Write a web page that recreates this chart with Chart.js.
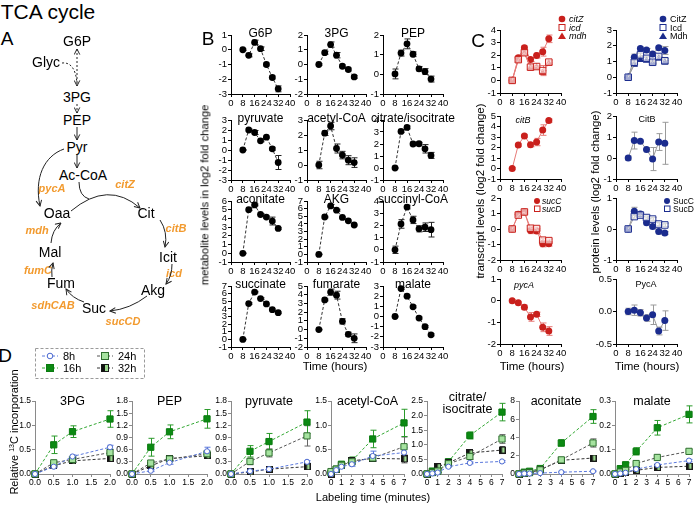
<!DOCTYPE html>
<html>
<head>
<meta charset="utf-8">
<script src="https://cdn.jsdelivr.net/npm/chart.js@4.4.1/dist/chart.umd.min.js"></script>
<style>
body { margin: 0; background: #fff; }
#fig { position: relative; width: 696px; height: 505px; overflow: hidden; font-family: "Liberation Sans", Arial, Helvetica, sans-serif; }
#fig canvas { position: absolute; z-index: 1; }
.t { position: absolute; white-space: nowrap; line-height: 1; transform: translate(-50%, -50%); z-index: 2; color: #000; }
</style>
</head>
<body>
<div id="fig"></div>
<script>
const FONT = '"Liberation Sans", Arial, Helvetica, sans-serif';
Chart.defaults.font.family = FONT;

// ---------- data ----------
const hours = [8, 12, 16, 20, 24, 28, 32];
const hourTicks = [0, 8, 16, 24, 32, 40];

// B: metabolite levels (log2 fold change)
const g6p = [0, -0.38, 0.5, 0.07, -1.0, -1.88, -2.65];
const g6pErr = [0.05, 0.1, 0.15, 0.12, 0.1, 0.1, 0.2];
const pg3 = [0, 0.8, 1.35, 0.63, -0.12, -0.34, -0.84];
const pg3Err = [0.05, 0.1, 0.18, 0.18, 0.1, 0.1, 0.1];
const pep = [0.02, 1.08, 1.55, 1.02, 0.28, 0.14, -0.24];
const pepErr = [0.25, 0.15, 0.25, 0.12, 0.12, 0.15, 0.15];
const pyr = [0, 2.0, 1.75, 0.92, 1.28, 0.12, -1.25];
const pyrErr = [0.05, 0.1, 0.2, 0.1, 0.1, 0.15, 0.7];
const accoa = [0, 2.12, 2.6, 1.1, 0.66, 0.32, 0.16];
const accoaErr = [0.25, 0.15, 0.25, 0.3, 0.25, 0.3, 0.32];
const citIcit = [0, 3.05, 3.38, 2.0, 2.02, 1.6, 1.05];
const citIcitErr = [0.05, 0.1, 0.12, 0.15, 0.12, 0.35, 0.25];
const acn = [0, 5.0, 5.55, 4.45, 4.15, 3.7, 2.85];
const acnErr = [0.05, 0.1, 0.1, 0.1, 0.15, 0.45, 0.1];
const akg = [0, 4.9, 6.35, 5.8, 4.85, 4.4, 3.85];
const akgErr = [0.05, 0.1, 0.2, 0.12, 0.1, 0.1, 0.1];
const succoa = [0, 2.12, 3.5, 2.45, 1.72, 1.85, 1.65];
const succoaErr = [0.3, 0.35, 0.15, 0.3, 0.25, 0.35, 0.6];
const suc = [0, 4.7, 6.2, 5.35, 4.65, 3.9, 3.5];
const sucErr = [0.05, 0.1, 0.1, 0.1, 0.1, 0.1, 0.1];
const fum = [0, 3.4, 4.3, 3.95, 0.95, -0.55, -1.0];
const fumErr = [0.05, 0.1, 0.35, 0.45, 0.3, 0.25, 0.5];
const mal = [0, 2.75, 2.0, 0.95, -0.15, -1.0, -1.8];
const malErr = [0.05, 0.1, 0.1, 0.1, 0.1, 0.1, 0.1];
const bTitles = ['G6P', '3PG', 'PEP', 'pyruvate', 'acetyl-CoA', 'citrate/isocitrate',
                 'aconitate', 'AKG', 'succinyl-CoA', 'succinate', 'fumarate', 'malate'];
const bYTicks = [[-3, 1], [-2, 2], [-1, 2], [-3, 3], [-1, 3], [-1, 4],
                 [-1, 6], [-1, 7], [-1, 4], [-1, 7], [-2, 5], [-3, 3]];

// C: transcripts (red) and proteins (blue)
const citZ = [0, 1.8, 2.6, 1.65, 1.98, 2.28, 3.3];
const citZErr = [0.1, 0.15, 0.15, 0.15, 0.2, 0.35, 0.3];
const icd = [0, 1.65, 2.2, 1.05, 1.1, 0.78, 1.45];
const icdErr = [0.1, 0.2, 0.15, 0.1, 0.1, 0.4, 0.15];
const mdh = [0, 1.6, 2.15, 1.0, 1.05, 0.62, 1.35];
const mdhErr = [0.05, 0.1, 0.1, 0.1, 0.1, 0.15, 0.1];
const citB = [0, 2.25, 3.1, 2.27, 2.52, 3.66, 4.56];
const citBErr = [0.1, 0.15, 0.15, 0.2, 0.35, 0.5, 0.15];
const sucC = [0, 0.95, 1.1, -0.1, -0.13, -0.95, -0.95];
const sucCErr = [0.1, 0.15, 0.15, 0.2, 0.15, 0.2, 0.15];
const sucD = [0, 0.9, 1.1, 0.05, 0.03, -0.72, -0.75];
const sucDErr = [0.1, 0.1, 0.1, 0.1, 0.1, 0.1, 0.1];
const pycA = [0, -0.1, -0.3, -0.75, -0.63, -1.23, -1.4];
const pycAErr = [0.05, 0.05, 0.1, 0.2, 0.1, 0.2, 0.2];

const CitZp = [0, 1.27, 1.82, 1.73, 1.48, 1.88, 1.7];
const CitZpErr = [0.1, 0.2, 0.1, 0.1, 0.1, 0.1, 0.25];
const Icdp = [0, 0.95, 1.42, 1.2, 0.95, 1.32, 1.05];
const IcdpErr = [0.05, 0.1, 0.1, 0.1, 0.1, 0.1, 0.15];
const Mdhp = [0, 0.8, 1.1, 1.05, 0.9, 1.2, 0.95];
const MdhpErr = [0.05, 0.1, 0.1, 0.05, 0.05, 0.1, 0.1];
const CitBp = [0, 0.83, 0.8, 0.4, -0.05, 0.76, 0.7];
const CitBpErr = [0.1, 0.4, 0.05, 0.1, 0.55, 0.4, 1.0];
const SucCp = [0, 0.57, 0.48, 0.2, 0.08, -0.08, -0.13];
const SucCpErr = [0.05, 0.13, 0.05, 0.05, 0.05, 0.08, 0.05];
const SucDp = [0, 0.4, 0.45, 0.37, 0.32, 0.16, 0.13];
const SucDpErr = [0.05, 0.05, 0.05, 0.05, 0.05, 0.05, 0.05];
const PycAp = [0, 0.02, -0.02, -0.1, -0.05, -0.3, -0.14];
const PycApErr = [0.05, 0.08, 0.05, 0.05, 0.15, 0.06, 0.15];

// D: relative 13C incorporation
const minShort = [0, 0.5, 1, 2];
const minLong = [0, 0.5, 1, 2, 4, 7];
const dTitles = ['3PG', 'PEP', 'pyruvate', 'acetyl-CoA', 'citrate/\nisocitrate', 'aconitate', 'malate'];
const dYTicks = [[0, 1.5, 0.5], [0, 1.8, 0.3], [0, 1.8, 0.3], [0, 1.5, 0.5], [0, 2.5, 0.5], [0, 8, 2], [0, 0.3, 0.1]];
// [8h, 16h, 24h, 32h]
const d3pg = [[0, 0.15, 0.36, 0.55], [0, 0.6, 0.87, 1.13], [0, 0.23, 0.3, 0.44], [0, 0.17, 0.27, 0.32]];
const d3pgErr = [[0, 0.02, 0.03, 0.04], [0, 0.18, 0.12, 0.17], [0, 0.03, 0.05, 0.06], [0, 0.02, 0.03, 0.04]];
const dpep = [[0, 0.08, 0.28, 0.56], [0, 0.66, 1.04, 1.36], [0, 0.27, 0.37, 0.5], [0, 0.2, 0.38, 0.45]];
const dpepErr = [[0, 0.02, 0.04, 0.1], [0, 0.22, 0.17, 0.23], [0, 0.04, 0.05, 0.05], [0, 0.03, 0.04, 0.04]];
const dpyr = [[0, 0.07, 0.12, 0.3], [0, 0.56, 0.8, 1.28], [0, 0.31, 0.52, 0.94], [0, 0.05, 0.12, 0.18]];
const dpyrErr = [[0, 0.02, 0.02, 0.03], [0, 0.14, 0.2, 0.28], [0, 0.08, 0.1, 0.25], [0, 0.03, 0.04, 0.05]];
const daccoa = [[0, 0.08, 0.15, 0.2, 0.37, 0.44], [0.02, 0.1, 0.2, 0.27, 0.72, 1.05], [0.05, 0.1, 0.18, 0.25, 0.33, 0.56], [0, 0.1, 0.17, 0.27, 0.32, 0.31]];
const daccoaErr = [[0, 0.02, 0.03, 0.04, 0.1, 0.1], [0.02, 0.03, 0.04, 0.08, 0.18, 0.28], [0.02, 0.02, 0.03, 0.05, 0.06, 0.2], [0, 0.02, 0.03, 0.05, 0.06, 0.08]];
const dcit = [[0, 0.02, 0.05, 0.25, 0.38, 0.43], [0, 0.1, 0.1, 0.42, 1.32, 2.12], [0, 0.05, 0.1, 0.35, 0.6, 1.2], [0, 0.05, 0.25, 0.38, 0.72, 0.82]];
const dcitErr = [[0, 0.01, 0.01, 0.02, 0.03, 0.03], [0, 0.03, 0.05, 0.08, 0.12, 0.3], [0, 0.02, 0.03, 0.05, 0.1, 0.15], [0, 0.02, 0.05, 0.05, 0.08, 0.12]];
const dacn = [[0, 0.05, 0.05, 0.1, 0.2, 0.3], [0, 0.2, 0.3, 0.6, 3.4, 6.3], [0, 0.1, 0.15, 0.45, 1.55, 3.4], [0, 0.1, 0.2, 0.45, 1.5, 1.75]];
const dacnErr = [[0, 0.02, 0.02, 0.03, 0.05, 0.05], [0, 0.05, 0.08, 0.15, 0.35, 0.75], [0, 0.03, 0.05, 0.1, 0.15, 0.45], [0, 0.03, 0.05, 0.1, 0.1, 0.2]];
const dmal = [[0, 0.002, 0.005, 0.02, 0.037, 0.055], [0, 0.022, 0.038, 0.093, 0.19, 0.245], [0, 0.008, 0.015, 0.043, 0.068, 0.093], [0, 0.003, 0.008, 0.015, 0.027, 0.032]];
const dmalErr = [[0, 0, 0, 0.003, 0.004, 0.005], [0, 0.01, 0.008, 0.015, 0.03, 0.035], [0, 0.002, 0.003, 0.005, 0.005, 0.007], [0, 0, 0, 0.003, 0.003, 0.004]];

// ---------- helpers ----------
const fig = document.getElementById('fig');

function label(str, x, y, css) {
  const d = document.createElement('div');
  d.className = 't';
  d.textContent = str;
  d.style.left = x + 'px';
  d.style.top = y + 'px';
  Object.assign(d.style, css || {});
  fig.appendChild(d);
  return d;
}

function pts(xs, ys) { return xs.map((x, i) => ({ x: x, y: ys[i] })); }

const errorBars = {
  id: 'errorBars',
  beforeDatasetsDraw(chart) {
    const ctx = chart.ctx, xs = chart.scales.x, ys = chart.scales.y;
    chart.data.datasets.forEach(ds => {
      if (!ds.err) return;
      ctx.save();
      ctx.strokeStyle = ds.errColor || ds.borderColor;
      ctx.lineWidth = 1;
      ds.data.forEach((p, i) => {
        const e = ds.err[i];
        if (!e) return;
        const px = Math.round(xs.getPixelForValue(p.x)) + 0.5;
        const y1 = ys.getPixelForValue(p.y + e), y2 = ys.getPixelForValue(p.y - e);
        ctx.beginPath();
        ctx.moveTo(px, y1); ctx.lineTo(px, y2);
        ctx.moveTo(px - 3, y1); ctx.lineTo(px + 3, y1);
        ctx.moveTo(px - 3, y2); ctx.lineTo(px + 3, y2);
        ctx.stroke();
      });
      ctx.restore();
    });
  }
};

// box = [left, top, right, bottom] of the plot area in page pixels
function makeChart(box, o) {
  const padL = o.padL || 24, padB = o.padB || 13, padT = 8, padR = 12;
  const w = box[2] - box[0], h = box[3] - box[1];
  const c = document.createElement('canvas');
  c.width = w + padL + padR;
  c.height = h + padT + padB;
  c.style.left = (box[0] - padL) + 'px';
  c.style.top = (box[1] - padT) + 'px';
  fig.appendChild(c);
  const ac = o.axisColor || '#000';
  const font = { family: FONT, size: o.tickSize || 9.5 };
  const axis = (r, fit) => ({
    type: 'linear', min: r.min, max: r.max,
    ticks: { stepSize: r.step, font: font, color: '#000', padding: 1, autoSkip: false, maxRotation: 0,
             callback: r.fmt || (v => String(v)) },
    grid: { drawOnChartArea: false, drawTicks: true, tickLength: 3, color: ac, lineWidth: 1 },
    border: { display: true, color: ac, width: 1 },
    afterFit: fit
  });
  return new Chart(c, {
    type: 'line',
    data: { datasets: o.datasets },
    options: {
      responsive: false, animation: false, events: [],
      layout: { padding: { top: padT, right: padR, left: 0, bottom: 0 } },
      plugins: { legend: { display: false }, tooltip: { enabled: false } },
      scales: { x: axis(o.x, s => { s.height = padB; }), y: axis(o.y, s => { s.width = padL; }) }
    },
    plugins: [errorBars]
  });
}

const hourAxis = { min: hourTicks[0], max: hourTicks[hourTicks.length - 1], step: hourTicks[1] - hourTicks[0] };

// ---------- panel B ----------
const bVals = [g6p, pg3, pep, pyr, accoa, citIcit, acn, akg, succoa, suc, fum, mal];
const bErrs = [g6pErr, pg3Err, pepErr, pyrErr, accoaErr, citIcitErr, acnErr, akgErr, succoaErr, sucErr, fumErr, malErr];
const bCols = [[231, 290], [307, 366], [383, 443]];
const bRows = [[35, 94], [120, 180], [201, 262], [286, 347]];

bVals.forEach((vals, i) => {
  const col = bCols[i % 3], row = bRows[Math.floor(i / 3)];
  makeChart([col[0], row[0], col[1], row[1]], {
    x: hourAxis,
    y: { min: bYTicks[i][0], max: bYTicks[i][1], step: 1 },
    datasets: [{
      data: pts(hours, vals), err: bErrs[i], errColor: '#222',
      borderColor: '#333', borderWidth: 1, borderDash: [3, 2],
      pointRadius: 3.4, pointBackgroundColor: '#000', pointBorderColor: '#000', pointBorderWidth: 0,
      clip: false
    }]
  });
  label(bTitles[i], (col[0] + col[1]) / 2, row[0] - 2, { fontSize: '12px' });
});

// ---------- panel C ----------
const RED = '#c9201c', RED_LINE = '#e77b78', BLUE = '#1b2c8e', BLUE_LINE = '#9a9a9a';

function cSet(vals, errs, color, line, style) {
  const open = style === 'open';
  return {
    data: pts(hours, vals), err: errs, errColor: line,
    borderColor: line, borderWidth: 1,
    pointStyle: open ? 'rect' : style, pointRadius: open ? 4.6 : (style === 'triangle' ? 4.2 : 3.5),
    pointBackgroundColor: open ? 'rgba(255,255,255,0.6)' : color, pointBorderColor: color, pointBorderWidth: open ? 1 : 0,
    clip: false
  };
}

const cLeft = [500, 561], cRight = [616, 677];
const cRows = [[30, 93], [116, 179], [198, 260], [279, 344]];

makeChart([cLeft[0], cRows[0][0], cLeft[1], cRows[0][1]], {
  x: hourAxis, y: { min: -1, max: 4, step: 1 },
  datasets: [cSet(icd, icdErr, RED, RED_LINE, 'open'), cSet(mdh, mdhErr, RED, RED_LINE, 'triangle'), cSet(citZ, citZErr, RED, RED_LINE, 'circle')]
});
makeChart([cLeft[0], cRows[1][0], cLeft[1], cRows[1][1]], {
  x: hourAxis, y: { min: -1, max: 5, step: 1 },
  datasets: [cSet(citB, citBErr, RED, RED_LINE, 'circle')]
});
makeChart([cLeft[0], cRows[2][0], cLeft[1], cRows[2][1]], {
  x: hourAxis, y: { min: -2, max: 2, step: 1 },
  datasets: [cSet(sucD, sucDErr, RED, RED_LINE, 'open'), cSet(sucC, sucCErr, RED, RED_LINE, 'circle')]
});
makeChart([cLeft[0], cRows[3][0], cLeft[1], cRows[3][1]], {
  x: hourAxis, y: { min: -2, max: 1, step: 1 },
  datasets: [cSet(pycA, pycAErr, RED, RED_LINE, 'circle')]
});

makeChart([cRight[0], cRows[0][0], cRight[1], cRows[0][1]], {
  x: hourAxis, y: { min: -1, max: 3, step: 1 },
  datasets: [cSet(Icdp, IcdpErr, BLUE, BLUE_LINE, 'open'), cSet(Mdhp, MdhpErr, BLUE, BLUE_LINE, 'triangle'), cSet(CitZp, CitZpErr, BLUE, BLUE_LINE, 'circle')]
});
makeChart([cRight[0], cRows[1][0], cRight[1], cRows[1][1]], {
  x: hourAxis, y: { min: -1, max: 2, step: 1 },
  datasets: [cSet(CitBp, CitBpErr, BLUE, BLUE_LINE, 'circle')]
});
makeChart([cRight[0], cRows[2][0], cRight[1], cRows[2][1]], {
  x: hourAxis, y: { min: -1, max: 1, step: 1 },
  datasets: [cSet(SucDp, SucDpErr, BLUE, BLUE_LINE, 'open'), cSet(SucCp, SucCpErr, BLUE, BLUE_LINE, 'circle')]
});
makeChart([cRight[0], cRows[3][0], cRight[1], cRows[3][1]], {
  x: hourAxis, y: { min: -0.5, max: 0.5, step: 0.5, fmt: v => v.toFixed(1) }, padL: 26,
  datasets: [cSet(PycAp, PycApErr, BLUE, BLUE_LINE, 'circle')]
});

// ---------- panel D ----------
function halfSquare() {
  const c = document.createElement('canvas');
  c.width = 7; c.height = 7;
  const g = c.getContext('2d');
  g.fillStyle = '#9bd98f'; g.fillRect(0, 0, 7, 7);
  g.fillStyle = '#111'; g.fillRect(0, 0, 3.5, 7);
  g.strokeStyle = '#1a1a1a'; g.lineWidth = 1; g.strokeRect(0.5, 0.5, 6, 6);
  return c;
}
const half = halfSquare();
const dStyles = [
  { borderColor: '#5a78dc', pointStyle: 'circle', pointRadius: 2.6, pointBackgroundColor: '#fff', pointBorderColor: '#4a68d0', pointBorderWidth: 1 },
  { borderColor: '#33a833', pointStyle: 'rect', pointRadius: 4.4, pointBackgroundColor: '#0b8a12', pointBorderColor: '#0b7a10', pointBorderWidth: 1 },
  { borderColor: '#555', pointStyle: 'rect', pointRadius: 4.4, pointBackgroundColor: '#a6e3a0', pointBorderColor: '#2e6e2e', pointBorderWidth: 1 },
  { borderColor: '#333', pointStyle: half, pointRadius: 4 }
];
const dErrColors = ['#5a78dc', '#2a9a2a', '#666', '#333'];
const dVals = [d3pg, dpep, dpyr, daccoa, dcit, dacn, dmal];
const dErrs = [d3pgErr, dpepErr, dpyrErr, daccoaErr, dcitErr, dacnErr, dmalErr];
const dBoxes = [[35, 110], [132, 207], [231, 307], [331, 404], [427, 502], [519, 593], [615, 689]];
const dTop = 401, dBottom = 474;

dVals.forEach((series, i) => {
  const short = i < 3;
  const xs = short ? minShort : minLong;
  const r = dYTicks[i];
  const order = [0, 2, 3, 1];
  makeChart([dBoxes[i][0], dTop, dBoxes[i][1], dBottom], {
    axisColor: '#8a8a8a', tickSize: 8.5, padL: 20,
    x: short ? { min: 0, max: 2, step: 0.5, fmt: v => v.toFixed(1) } : { min: 0, max: 7, step: 1 },
    y: { min: r[0], max: r[1], step: r[2], fmt: v => (r[2] >= 1 ? String(Math.round(v)) : v.toFixed(1)) },
    datasets: order.map(k => Object.assign({
      data: pts(xs, series[k]), err: dErrs[i][k], errColor: dErrColors[k],
      borderWidth: 1, borderDash: [3, 2], clip: false
    }, dStyles[k]))
  });
});

// ---------- text ----------
const ORANGE = '#f29a2e';
label('TCA cycle', 48, 11, { fontSize: '21px' });
label('A', 7, 38, { fontSize: '19px' });
label('B', 208, 38, { fontSize: '19px' });
label('C', 478, 40, { fontSize: '19px' });
label('D', 5, 355, { fontSize: '19px' });

// panel A metabolites
[['G6P', 77, 41], ['Glyc', 46, 62], ['3PG', 77, 97], ['PEP', 77, 120], ['Pyr', 77, 147],
 ['Ac-CoA', 83, 175], ['Oaa', 57, 213], ['Cit', 146, 213], ['Icit', 168, 257], ['Akg', 153, 290],
 ['Suc', 94, 308], ['Fum', 61, 283], ['Mal', 50, 252]].forEach(m => label(m[0], m[1], m[2], { fontSize: '14px' }));
[['pycA', 52, 188], ['citZ', 125, 184], ['citB', 176, 228], ['icd', 174, 273], ['sucCD', 123, 321],
 ['sdhCAB', 53, 305], ['fumC', 38, 270], ['mdh', 37, 230]].forEach(m =>
  label(m[0], m[1], m[2], { fontSize: '11px', color: ORANGE, fontStyle: 'italic', fontWeight: 'bold' }));

// axis titles
label('metabolite levels in log2 fold change', 205, 195, { fontSize: '11.2px', transform: 'translate(-50%,-50%) rotate(-90deg)' });
label('Time (hours)', 335, 367, { fontSize: '11.5px' });
label('Time (hours)', 532, 367, { fontSize: '11.5px' });
label('Time (hours)', 647, 367, { fontSize: '11.5px' });
label('transcript levels (log2 fold change)', 481, 191, { fontSize: '11.5px', transform: 'translate(-50%,-50%) rotate(-90deg)' });
label('protein levels (log2 fold change)', 596, 192, { fontSize: '11.5px', transform: 'translate(-50%,-50%) rotate(-90deg)' });
label('Labeling time (minutes)', 373, 497, { fontSize: '11px' });
const rel = label('', 14, 432, { fontSize: '11px', transform: 'translate(-50%,-50%) rotate(-90deg)' });
rel.innerHTML = 'Relative <span style="font-size:7px;vertical-align:4px">13</span>C incorporation';

// C subplot titles
label('citB', 523, 120, { fontSize: '9px', fontStyle: 'italic' });
label('CitB', 647, 119, { fontSize: '9px' });
label('pycA', 524, 285, { fontSize: '9px', fontStyle: 'italic' });
label('PycA', 646, 284, { fontSize: '9px' });

// C legends
const leftText = { fontSize: '9px', transform: 'translate(0,-50%)' };
[['citZ', 19], ['icd', 27.5], ['mdh', 36]].forEach(l => label(l[0], 569, l[1], Object.assign({ fontStyle: 'italic' }, leftText)));
[['CitZ', 19], ['Icd', 27.5], ['Mdh', 36]].forEach(l => label(l[0], 670, l[1], leftText));
[['sucC', 201], ['sucD', 208.5]].forEach(l => label(l[0], 542, l[1], { fontStyle: 'italic', fontSize: '8.5px', transform: 'translate(0,-50%)' }));
[['SucC', 201], ['SucD', 208.5]].forEach(l => label(l[0], 673, l[1], { fontSize: '8.5px', transform: 'translate(0,-50%)' }));

// D titles
dTitles.forEach((t, i) => {
  const cx = (dBoxes[i][0] + dBoxes[i][1]) / 2;
  if (t.includes('\n')) {
    const parts = t.split('\n');
    label(parts[0], cx + 3, 397, { fontSize: '12.5px' });
    label(parts[1], cx + 3, 409, { fontSize: '12.5px' });
  } else {
    label(t, cx, 401, { fontSize: '12.5px' });
  }
});

// D legend text
[['8h', 63, 356], ['16h', 63, 368], ['24h', 118, 356], ['32h', 118, 368]].forEach(l =>
  label(l[0], l[1], l[2], { fontSize: '11px', transform: 'translate(0,-50%)' }));

// ---------- pathway arrows and legend symbols ----------
const dash = 'stroke-dasharray="2,2"';
fig.insertAdjacentHTML('beforeend', `
<svg width="696" height="505" style="position:absolute;left:0;top:0;z-index:3" xmlns="http://www.w3.org/2000/svg">
 <defs>
  <marker id="ah" viewBox="0 0 10 10" refX="9" refY="5" markerWidth="7" markerHeight="7" markerUnits="userSpaceOnUse" orient="auto-start-reverse">
   <path d="M1,1 L9,5 L1,9" fill="none" stroke="#222" stroke-width="1.4"/>
  </marker>
 </defs>
 <g fill="none" stroke="#222" stroke-width="1">
  <path d="M77,49 L77,86" ${dash} marker-start="url(#ah)" marker-end="url(#ah)"/>
  <path d="M62,63 C70,62 76,68 77,84" ${dash}/>
  <path d="M77,104 L77,113" ${dash} marker-end="url(#ah)"/>
  <path d="M77,127 L77,140" marker-end="url(#ah)"/>
  <path d="M77,154 L77,168" marker-end="url(#ah)"/>
  <path d="M64,149 C44,156 34,178 40,206" marker-end="url(#ah)"/>
  <path d="M71,211 Q108,180 140,208" marker-end="url(#ah)"/>
  <path d="M79,182 Q79,196 89,199"/>
  <path d="M160,220 Q168,232 165,247" marker-end="url(#ah)"/>
  <path d="M172,264 Q172,276 166,284" marker-end="url(#ah)"/>
  <path d="M147,296 Q130,309 110,311" marker-end="url(#ah)"/>
  <path d="M84,302 Q72,298 66,289" marker-end="url(#ah)"/>
  <path d="M52,277 Q51,270 53,263" marker-end="url(#ah)"/>
  <path d="M51,243 Q52,230 61,223" marker-end="url(#ah)"/>
 </g>
 <rect x="35.5" y="348.5" width="109" height="30" fill="none" stroke="#9a9a9a" stroke-dasharray="3,2"/>
 <path d="M42,356 H58" stroke="#5a78dc" stroke-dasharray="3,2"/>
 <circle cx="50" cy="356" r="2.8" fill="#fff" stroke="#4a68d0"/>
 <path d="M42,368 H58" stroke="#33a833" stroke-dasharray="3,2"/>
 <rect x="46.5" y="364.5" width="7" height="7" fill="#0b8a12" stroke="#0b7a10"/>
 <path d="M97,356 H113" stroke="#555" stroke-dasharray="3,2"/>
 <rect x="101.5" y="352.5" width="7" height="7" fill="#a6e3a0" stroke="#2e6e2e"/>
 <path d="M97,368 H113" stroke="#333" stroke-dasharray="3,2"/>
 <rect x="101.5" y="364.5" width="7" height="7" fill="#9bd98f" stroke="#1a1a1a"/>
 <rect x="101.5" y="364.5" width="3.5" height="7" fill="#111"/>
 <circle cx="562" cy="19" r="3.3" fill="${RED}"/>
 <rect x="559" y="24.5" width="6" height="6" fill="#fff" stroke="${RED}"/>
 <path d="M562,32.5 L566,39 L558,39 Z" fill="${RED}"/>
 <circle cx="663" cy="19" r="3.3" fill="${BLUE}"/>
 <rect x="660" y="24.5" width="6" height="6" fill="#fff" stroke="${BLUE}"/>
 <path d="M663,32.5 L667,39 L659,39 Z" fill="${BLUE}"/>
 <circle cx="537" cy="201" r="3" fill="${RED}"/>
 <rect x="534.5" y="206" width="5.5" height="5.5" fill="#fff" stroke="${RED}"/>
 <circle cx="667" cy="201" r="3" fill="${BLUE}"/>
 <rect x="664.5" y="206" width="5.5" height="5.5" fill="#fff" stroke="${BLUE}"/>
</svg>`);
</script>
</body>
</html>
